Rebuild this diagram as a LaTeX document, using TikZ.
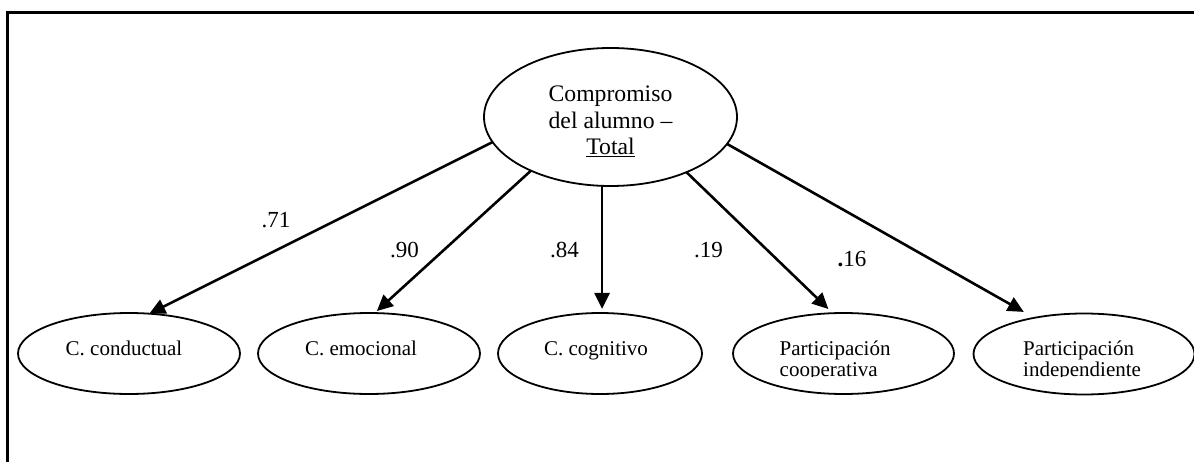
\documentclass[tikz,border=0pt]{standalone}
\usepackage{fontspec}
\setmainfont{Liberation Serif}
\usetikzlibrary{shapes.geometric,arrows.meta}
\begin{document}
\begin{tikzpicture}[x=1pt,y=-1pt,
  factor/.style={draw, ellipse, line width=1.8pt, inner sep=0pt, outer sep=0pt},
  dimension/.style={factor, minimum height=81pt},
  bigtext/.style={font=\fontsize{23.7}{26.5}\selectfont, align=center, inner sep=0pt},
  smalltext/.style={font=\fontsize{21}{21}\selectfont, align=left, inner sep=0pt, anchor=base west},
  dimtext/.style={font=\fontsize{21}{21}\selectfont, inner sep=0pt, anchor=base},
  weight/.style={font=\fontsize{23}{23}\selectfont, inner sep=0pt, anchor=base},
  load/.style={line width=2.6pt, -{Triangle[length=16pt,width=15pt]}}
]
\useasboundingbox (0,0) rectangle (1194,462);

% frame
\draw[line width=3pt] (7.7,462) -- (7.7,12.2) -- (1194,12.2);

% general factor (multi-line text: base anchor sits on the last line)
\node[factor, minimum width=253pt, minimum height=138pt] (total) at (610.5,117) {};
\node[bigtext, anchor=base] (totaltxt) at (610.5,154.7)
  {Compromiso\\del alumno –\\\underline{Total}};

% first-order dimensions
\node[dimension, minimum width=222pt] (cond) at (129,353.5) {};
\node[dimension, minimum width=222pt] (emo)  at (369,353.5) {};
\node[dimension, minimum width=204pt] (cog)  at (600,353.5) {};
\node[dimension, minimum width=221pt] (coop) at (843.5,353.5) {};
\node[dimension, minimum width=221pt] (ind)  at (1084,354) {};

\node[dimtext] (condtxt) at (124,355) {C. conductual};
\node[dimtext] (emotxt)  at (361,355) {C. emocional};
\node[dimtext] (cogtxt)  at (596,355) {C. cognitivo};
% two-line labels, cut off just below the second baseline
\begin{scope}
  \clip (700,330) rectangle (1194,376.5);
  \node[smalltext] (cooptxt) at (779.5,376) {Participación\\cooperativa};
  \node[smalltext] (indtxt)  at (1023,376) {Participación\\independiente};
\end{scope}

% loadings
\draw[load] (total.192.7) -- (cond.63.2);
\draw[load, shorten >=3pt] (total.214.5) -- (emo.82);
\draw[load, shorten >=4pt] (total.263.3) -- (total.263.3 |- cog.north);
\draw[load, shorten >=6pt] (total.324.1) -- (coop.105);
\draw[load, shorten >=12pt] (total.347.3) -- (ind.144.3);

\node[weight] (w1) at (276,228) {.71};
\node[weight] (w2) at (404.5,258) {.90};
\node[weight] (w3) at (564.5,258) {.84};
\node[weight] (w4) at (708.5,258) {.19};
\node[weight] (w5) at (852,267) {\textbf{.}16};
\end{tikzpicture}
\end{document}
